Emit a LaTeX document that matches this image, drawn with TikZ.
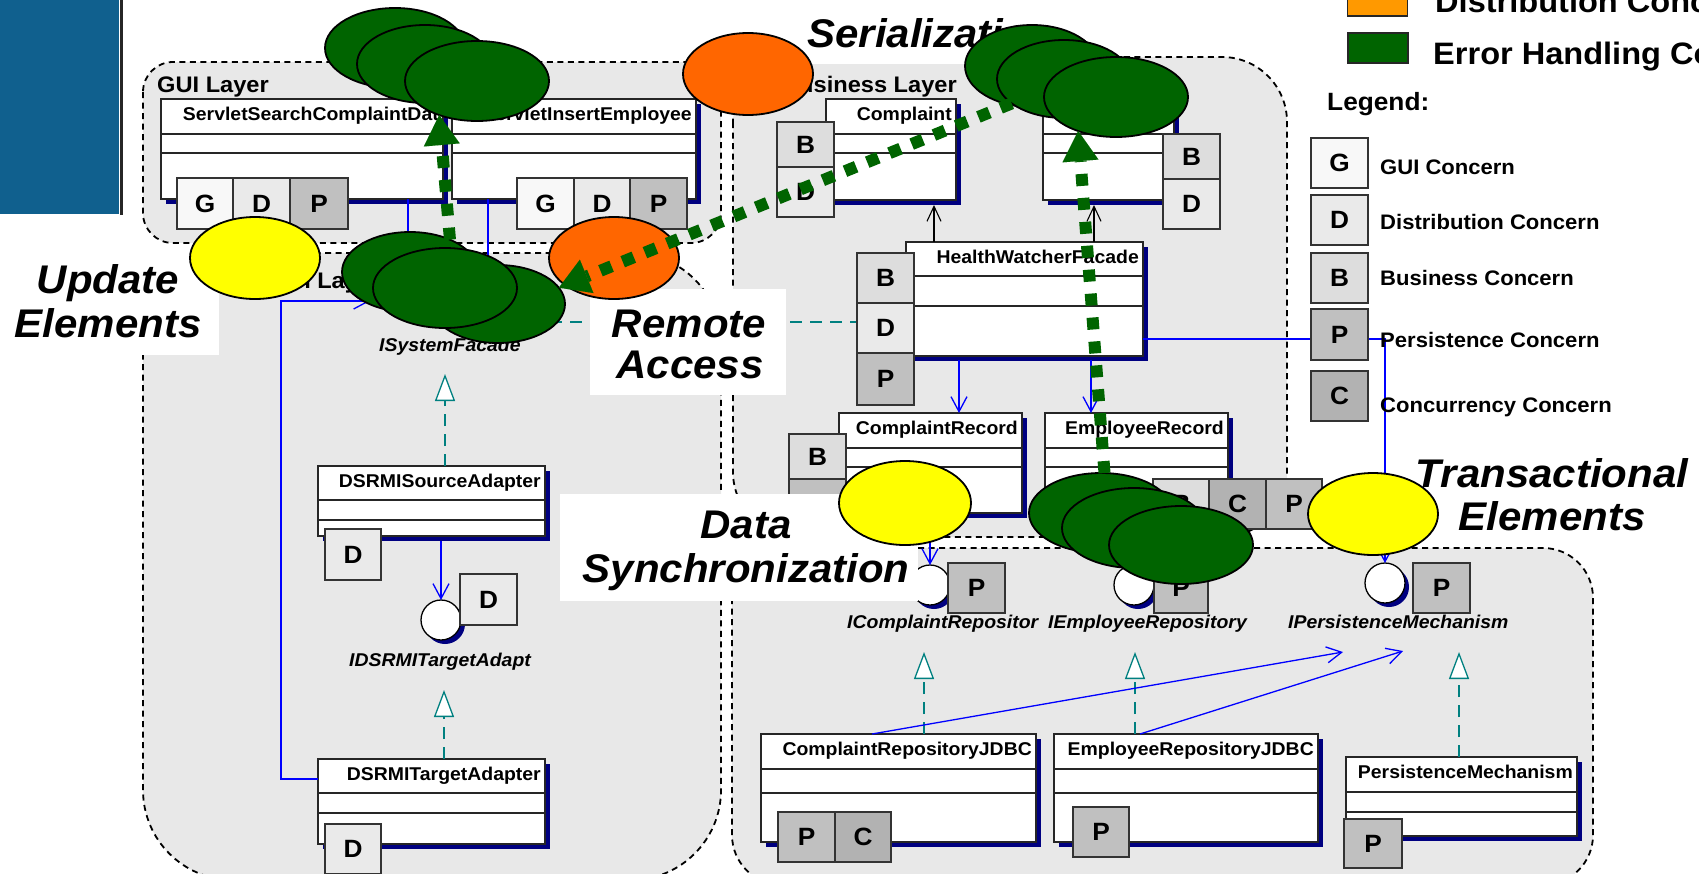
\documentclass[tikz,border=0pt]{standalone}
\usepackage{fontspec}
\setmainfont{Liberation Sans}[FakeStretch=1.05]
\usetikzlibrary{arrows.meta,shapes.geometric}

\definecolor{panelblue}{RGB}{16,96,142}
\definecolor{layergray}{RGB}{232,232,232}
\definecolor{umlnavy}{RGB}{0,0,128}
\definecolor{umlteal}{RGB}{0,128,128}
\definecolor{umlblue}{RGB}{0,0,255}
\definecolor{errgreen}{RGB}{0,100,0}
\definecolor{distorange}{RGB}{255,102,0}
\definecolor{legorange}{RGB}{255,153,0}
\definecolor{hiyellow}{RGB}{255,255,0}
\definecolor{cG}{RGB}{248,248,248}
\definecolor{cD}{RGB}{234,234,234}
\definecolor{cB}{RGB}{221,221,221}
\definecolor{cP}{RGB}{192,192,192}
\definecolor{cC}{RGB}{178,178,178}

\newcommand\fsz[1]{\fontsize{#1}{#1}\selectfont}

% UML class box: name, x1, y1, x2, y2, first rule, second rule, title
\newcommand\umlclass[8]{%
  \fill[umlnavy] ({#2+5},{#3+5}) rectangle ({#4+5},{#5+5});
  \node[classbox, minimum width={#4-#2}, minimum height={#5-#3}] (#1) at ({(#2+#4)/2},{(#3+#5)/2}) {};
  \draw[classrule] (#2,#6) -- (#4,#6) (#2,#7) -- (#4,#7);
  \node[clsname, anchor=base east] (#1-name) at ({#4-4},{#3+21}) {#8};
}
% interface lollipop: name, x, y
\newcommand\iface[3]{%
  \fill[umlnavy] ({#2+4},{#3+4}) circle[radius=20pt];
  \node[ifc] (#1) at (#2,#3) {};
}
% concern ellipse: name, colour, x, y, rx, ry
\newcommand\concernblob[6]{%
  \node[blob, fill=#2, minimum width={2*#5}, minimum height={2*#6}] (#1) at (#3,#4) {};
}

\begin{document}
\begin{tikzpicture}[x=1pt,y=-1pt,
  layer/.style={draw=black, line width=1.8pt, dash pattern=on 6pt off 4.5pt, fill=layergray},
  classbox/.style={rectangle, draw=black!85, line width=1.3pt, fill=white, inner sep=0pt, outer sep=0pt},
  classrule/.style={draw=black!85, line width=1.3pt},
  clsname/.style={font=\fsz{18.5}\bfseries, inner sep=0pt},
  ifname/.style={font=\fsz{18.5}\bfseries\itshape, inner sep=0pt, anchor=base west},
  badge/.style={rectangle, draw=black!80, line width=1.3pt, minimum width=57pt, minimum height=50pt, inner sep=0pt, font=\fsz{25}\bfseries},
  ifc/.style={circle, draw=black, line width=1.3pt, fill=white, minimum size=40pt, inner sep=0pt, outer sep=0pt},
  blob/.style={ellipse, draw=black, line width=1.8pt, inner sep=0pt, outer sep=0pt},
  assoc/.style={draw=umlblue, line width=1.3pt, -{Straight Barb[length=15pt,width=16pt,line width=1.3pt]}},
  depline/.style={draw=umlblue, line width=1.3pt},
  usearrow/.style={draw=black, line width=1.1pt, -{Straight Barb[length=15pt,width=14pt,line width=1.1pt]}},
  impl/.style={draw=umlteal, line width=1.3pt, dash pattern=on 12pt off 8pt, -{Triangle[length=27pt,width=20pt,fill=white,line width=1.3pt]}},
  realize/.style={draw=umlteal, line width=1.3pt, dash pattern=on 12pt off 8pt},
  errflow/.style={draw=errgreen, line width=12pt, dash pattern=on 12pt off 12pt, -{Triangle[length=30pt,width=36pt,line width=0.01pt]}},
  bigtxt/.style={font=\fsz{40}\bfseries\itshape, inner sep=0pt, anchor=base},
  laytxt/.style={font=\fsz{22.5}\bfseries, inner sep=0pt},
  legtxt/.style={font=\fsz{21}\bfseries, inner sep=0pt, anchor=base west},
  legsw/.style={rectangle, draw=black!85, line width=1.3pt, minimum width=60pt, minimum height=30pt, inner sep=0pt}
]
\useasboundingbox (0,0) rectangle (1699,873);
\fill[white] (0,0) rectangle (1699,873);

% side panel
\fill[panelblue] (0,0) rectangle (119,214);
\fill[black!85] (120,0) rectangle (123,215);

% architectural layers
\draw[layer, rounded corners=30pt] (143,62) rectangle (721,243);
\draw[layer, rounded corners=90pt] (143,253) rectangle (721,880);
\draw[layer, rounded corners=65pt] (733,57) rectangle (1287,537);
\draw[layer, rounded corners=50pt] (732,548) rectangle (1593,885);

\node[laytxt, anchor=base west] (guiName) at (157,92) {GUI Layer};
\node[laytxt, anchor=base west] (distName) at (178,288) {Distribution Layer};
\node[laytxt, anchor=base east] (busName) at (957,92) {Business Layer};

% classes
\umlclass{svA}{161}{99}{443}{199}{134}{153}{ServletSearchComplaintDat}
\umlclass{svB}{452}{99}{696}{199}{134}{153}{ServletInsertEmployee}
\umlclass{cmp}{826}{99}{956}{200}{134}{153}{Complaint}
\umlclass{emp}{1043}{99}{1174}{200}{134}{153}{}
\umlclass{hwf}{906}{242}{1143}{356}{276}{306}{HealthWatcherFacade}
\umlclass{crec}{839}{413}{1022}{513}{448}{467}{ComplaintRecord}
\umlclass{erec}{1045}{413}{1228}{513}{448}{467}{EmployeeRecord}
\umlclass{dsa}{318}{466}{545}{536}{500}{520}{DSRMISourceAdapter}
\umlclass{dta}{318}{759}{545}{844}{793}{813}{DSRMITargetAdapter}
\umlclass{crj}{761}{734}{1036}{842}{769}{793}{ComplaintRepositoryJDBC}
\umlclass{erj}{1054}{734}{1318}{842}{769}{793}{EmployeeRepositoryJDBC}
\umlclass{pm}{1346}{757}{1577}{836}{792}{812}{PersistenceMechanism}

% interfaces
\iface{isf}{449}{305}
\iface{ids}{441}{620}
\iface{icr}{930}{585}
\iface{ier}{1134}{585}
\iface{ipm}{1385}{583}

\node[ifname] (isfN) at (379,351) {ISystemFacade};
\node[ifname] (idsN) at (349,666) {IDSRMITargetAdapt};
\node[ifname] (icrN) at (847,628) {IComplaintRepositor};
\node[ifname] (ierN) at (1048,628) {IEmployeeRepository};
\node[ifname] (ipmN) at (1288,628) {IPersistenceMechanism};

% concern badges
\node[badge, fill=cG, minimum width=56pt, minimum height=51pt] (svAg) at (205,203.5) {G};
\node[badge, fill=cD, minimum width=57pt, minimum height=51pt] (svAd) at (261.5,203.5) {D};
\node[badge, fill=cP, minimum width=58pt, minimum height=51pt] (svAp) at (319,203.5) {P};
\node[badge, fill=cG, minimum height=51pt] (svBg) at (545.5,203.5) {G};
\node[badge, fill=cD, minimum width=56pt, minimum height=51pt] (svBd) at (602,203.5) {D};
\node[badge, fill=cP, minimum height=51pt] (svBp) at (658.5,203.5) {P};
\node[badge, fill=cB, minimum height=45pt] (cmpB) at (805.5,144.5) {B};
\node[badge, fill=cD] (cmpD) at (805.5,192) {D};
\node[badge, fill=cB, minimum height=45pt] (empB) at (1191.5,156.5) {B};
\node[badge, fill=cD] (empD) at (1191.5,204) {D};
\node[badge, fill=cB] (hwfB) at (885.5,278) {B};
\node[badge, fill=cD] (hwfD) at (885.5,328) {D};
\node[badge, fill=cP, minimum height=52pt] (hwfP) at (885.5,379) {P};
\node[badge, fill=cB, minimum height=45pt] (crecB) at (817.5,456.5) {B};
\node[badge, fill=cP] (crecP) at (817.5,504) {P};
\node[badge, fill=cB, minimum width=56pt] (erecB) at (1181,504) {B};
\node[badge, fill=cC] (erecC) at (1237.5,504) {C};
\node[badge, fill=cP, minimum width=56pt] (erecP) at (1294,504) {P};
\node[badge, fill=cD, minimum width=56pt, minimum height=51pt] (dsaD) at (353,554.5) {D};
\node[badge, fill=cD, minimum height=51pt] (idsD) at (488.5,599.5) {D};
\node[badge, fill=cD, minimum width=56pt] (dtaD) at (353,849) {D};
\node[badge, fill=cP] (icrP) at (976.5,588) {P};
\node[badge, fill=cP, minimum width=54pt] (ierP) at (1181,588) {P};
\node[badge, fill=cP] (ipmP) at (1441.5,588) {P};
\node[badge, fill=cP] (crjP) at (806.5,837) {P};
\node[badge, fill=cC, minimum width=56pt] (crjC) at (863,837) {C};
\node[badge, fill=cP, minimum width=56pt] (erjP) at (1101,832) {P};
\node[badge, fill=cP, minimum width=58pt, minimum height=49pt] (pmP) at (1373,843.5) {P};

% connectors
\coordinate (isfIn) at (370,301);
\coordinate (isfImp) at (445,374);
\coordinate (idsImp) at (444,690);
\coordinate (icrImp) at (924,652);
\coordinate (ierImp) at (1135,652);
\coordinate (ipmImp) at (1459,652);
\coordinate (ipmA) at (1343,652);
\coordinate (ipmB) at (1403,651);
\coordinate (isfDep) at (470,322);
\coordinate (hwfT1) at ([xshift=28pt]hwf.north west);
\coordinate (hwfT2) at ([xshift=188pt]hwf.north west);
\coordinate (hwfB1) at ([xshift=53pt]hwf.south west);
\coordinate (hwfB2) at ([xshift=185pt]hwf.south west);
\coordinate (hwfR) at ([yshift=-40pt]hwf.east);

\draw[depline] ([xshift=247pt]svA.south west) |- (isf);
\draw[depline] ([xshift=36pt]svB.south west) |- (isf);
\draw[assoc] ([yshift=-20pt]dta.north west) -- ++(-37,0) |- (isfIn);
\draw[assoc, shorten <=5pt] (ids.north |- dsa.south) -- (ids.north);
\draw[usearrow, shorten >=5pt] (hwfT1) -- (hwfT1 |- cmp.south);
\draw[usearrow, shorten >=5pt] (hwfT2) -- (hwfT2 |- emp.south);
\draw[assoc, shorten <=4pt] (hwfB1) -- (hwfB1 |- crec.north);
\draw[assoc, shorten <=4pt] (hwfB2) -- (hwfB2 |- erec.north);
\draw[assoc] (hwfR) -| (ipm.north);
\draw[assoc, shorten <=5pt] (icr.north |- crec.south) -- (icr.north);
\draw[assoc, shorten <=5pt] (ier.north |- erec.south) -- (ier.north);
\draw[realize] (isfDep) -- (isfDep -| hwfD.west);
\draw[impl] (isfImp |- dsa.north) -- (isfImp);
\draw[impl] (idsImp |- dta.north) -- (idsImp);
\draw[impl] (icrImp |- crj.north) -- (icrImp);
\draw[impl] (ierImp |- erj.north) -- (ierImp);
\draw[impl] (ipmImp |- pm.north) -- (ipmImp);
\draw[assoc] ([xshift=111pt]crj.north west) -- (ipmA);
\draw[assoc] ([xshift=86pt]erj.north west) -- (ipmB);

% legend
\node[legsw, fill=legorange] (lgO) at (1377.5,1) {};
\node[legsw, fill=errgreen] (lgE) at (1378,48) {};
\node[font=\fsz{31}\bfseries, inner sep=0pt, anchor=base west] (lgOt) at (1435,12) {Distribution Concern};
\node[font=\fsz{31}\bfseries, inner sep=0pt, anchor=base west] (lgEt) at (1433,64) {Error Handling Concern};
\node[font=\fsz{25}\bfseries, inner sep=0pt, anchor=base west] (legT) at (1327,110) {Legend:};
\node[badge, fill=cG] (lgG) at (1339.5,163) {G};
\node[badge, fill=cD] (lgD) at (1339.5,220) {D};
\node[badge, fill=cB] (lgB) at (1339.5,278) {B};
\node[badge, fill=cP, minimum height=51pt] (lgP) at (1339.5,334.5) {P};
\node[badge, fill=cC] (lgC) at (1339.5,396) {C};
\node[legtxt] (lgGt) at (1380,174) {GUI Concern};
\node[legtxt] (lgDt) at (1380,229) {Distribution Concern};
\node[legtxt] (lgBt) at (1380,285) {Business Concern};
\node[legtxt] (lgPt) at (1380,347) {Persistence Concern};
\node[legtxt] (lgCt) at (1380,412) {Concurrency Concern};

% crosscutting labels
\fill[white] (0,247) rectangle (219,355);
\node[bigtxt] (updA) at (108,293) {Update};
\node[bigtxt] (updB) at (108,337) {Elements};
\fill[white] (590,289) rectangle (786,395);
\node[bigtxt] (remA) at (689,337) {Remote};
\node[bigtxt] (remB) at (690,378) {Access};
\fill[white] (560,494) rectangle (918,601);
\node[bigtxt] (synA) at (746,538) {Data};
\node[bigtxt] (synB) at (746,582) {Synchronization};
\node[bigtxt] (trA) at (1552,487) {Transactional};
\node[bigtxt] (trB) at (1552,530) {Elements};
\fill[white] (797,0) rectangle (1060,64);
\node[bigtxt] (ser) at (931,47) {Serialization};

% concern ellipses
\concernblob{O1}{distorange}{748}{74}{65}{41}
\concernblob{O2}{distorange}{614}{258}{65}{41}
\concernblob{Y1}{hiyellow}{255}{258}{65}{41}
\concernblob{Y2}{hiyellow}{905}{503}{66}{42}
\concernblob{Y3}{hiyellow}{1373}{514}{65}{41}
\concernblob{E1}{errgreen}{395}{48}{70}{40}
\concernblob{E2}{errgreen}{425}{64}{68}{39}
\concernblob{E3}{errgreen}{477}{81}{72}{40}
\concernblob{F1}{errgreen}{410}{272}{68}{40}
\concernblob{F2}{errgreen}{498}{304}{67}{39}
\concernblob{F3}{errgreen}{445}{288}{72}{40}
\concernblob{H1}{errgreen}{1032}{66}{67}{41}
\concernblob{H2}{errgreen}{1064}{79}{67}{39}
\concernblob{H3}{errgreen}{1116}{97}{72}{40}
\concernblob{K1}{errgreen}{1101}{513}{72}{40}
\concernblob{K2}{errgreen}{1134}{528}{72}{40}
\concernblob{K3}{errgreen}{1181}{545}{72}{39}

% error propagation
\draw[errflow] (F1.39) -- (E3.222);
\draw[errflow] (H2.205) -- (F2.15);
\draw[errflow] (K1.85) -- (H3.222);
\end{tikzpicture}
\end{document}
